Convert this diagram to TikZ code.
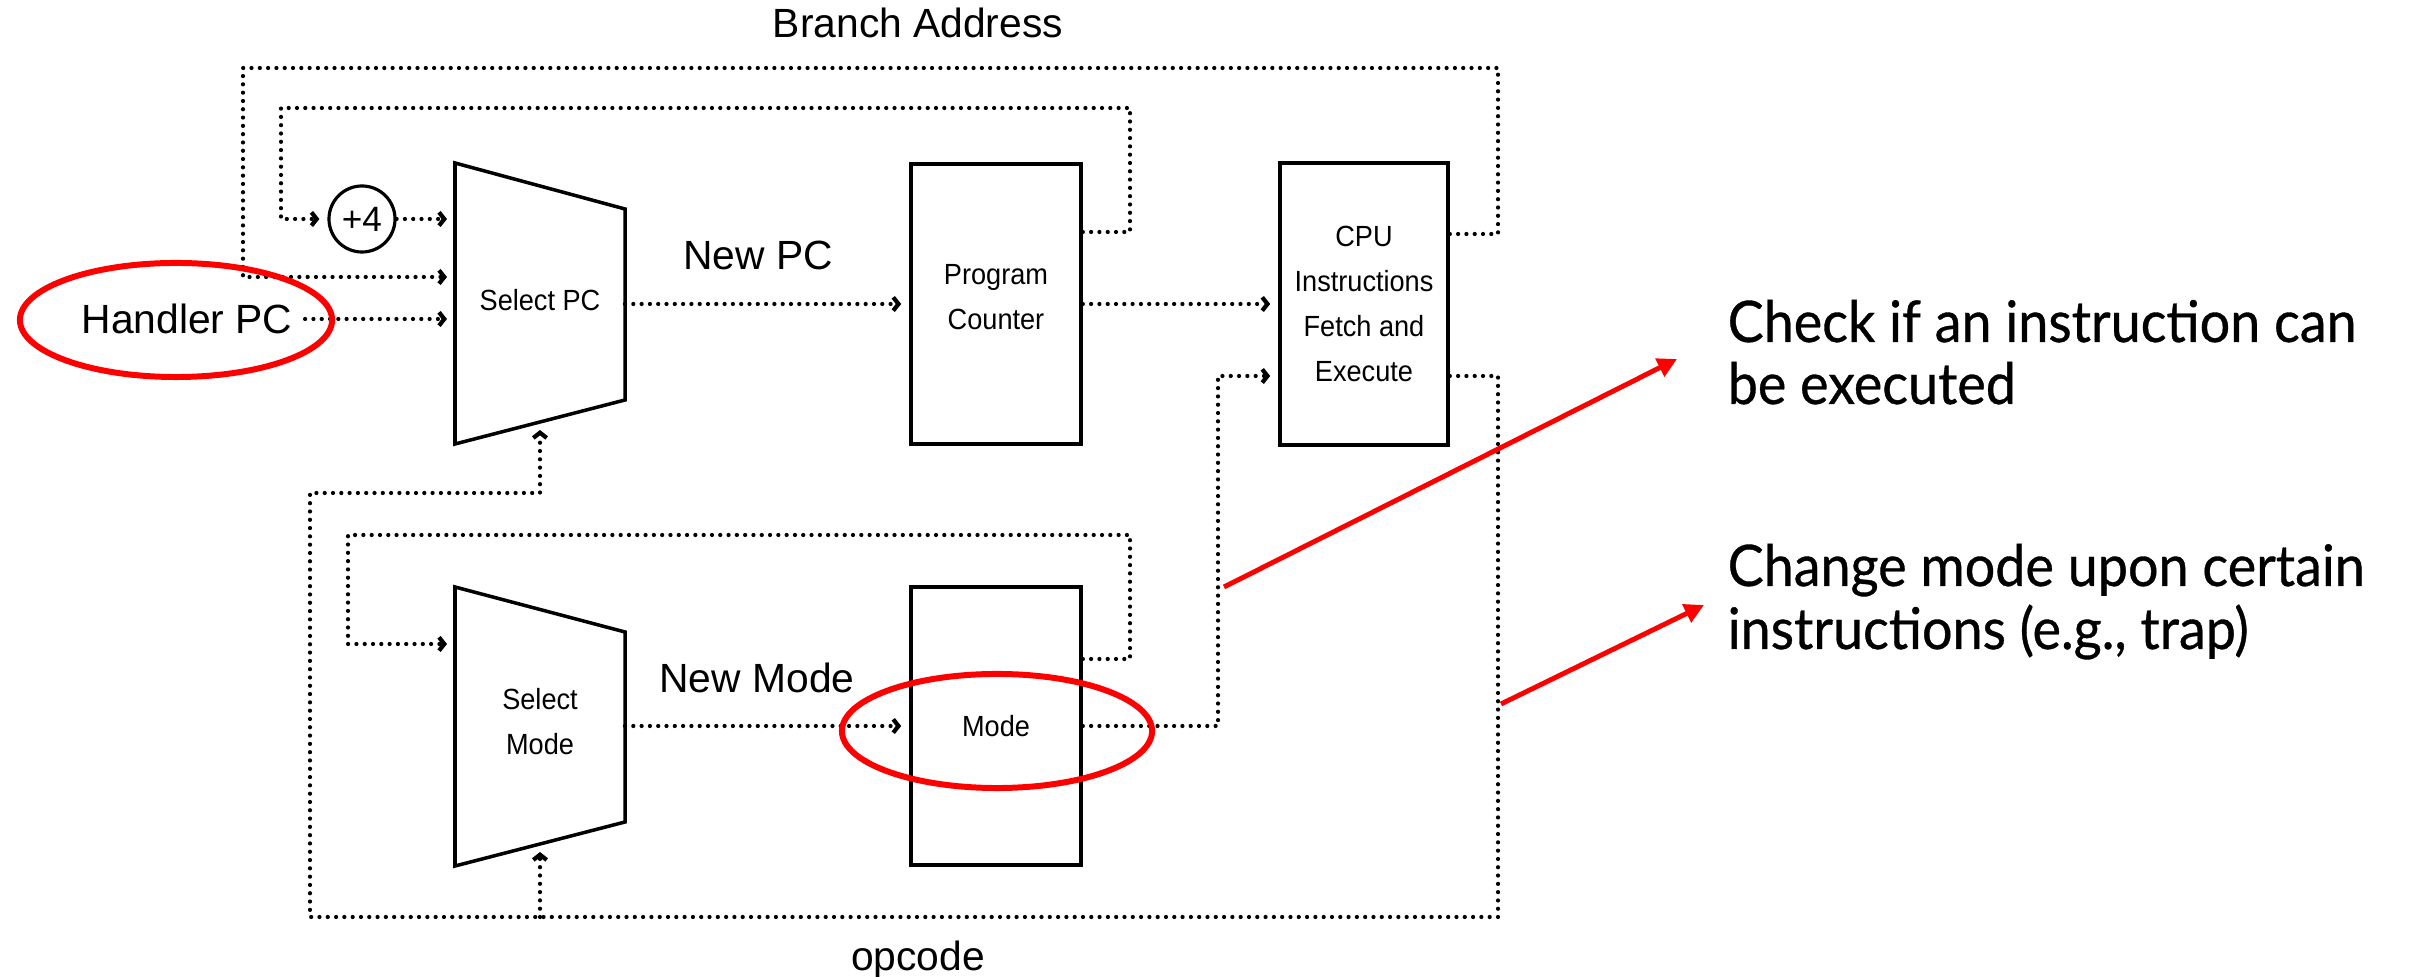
\documentclass[tikz,border=0pt]{standalone}
\usepackage{fontspec}
\setmainfont{Liberation Sans}
\newfontfamily\boxfont[FakeStretch=0.93]{Liberation Sans}
\newfontfamily\notefont[FakeStretch=0.94,FakeBold=0.6]{Lato}
\usetikzlibrary{arrows.meta,shapes.geometric}
\definecolor{annot}{RGB}{255,0,0}
\begin{document}
\begin{tikzpicture}[x=0.01cm,y=-0.01cm,
  dotline/.style={line width=1.2pt, line cap=round, dash pattern=on 0pt off 2.36pt},
  conn/.style={dotline, shorten >=0.08cm, -{Straight Barb[length=1.5pt,width=3.8pt,line width=1.2pt]}},
  regbox/.style={draw, line width=1pt, minimum width=1.7cm, inner sep=0pt, font=\boxfont\fontsize{8.3}{12.8}\selectfont, align=center},
  trap/.style={draw, line width=1pt, line join=miter},
  boxtext/.style={inner sep=0pt, font=\boxfont\fontsize{8.3}{12.8}\selectfont, align=center},
  lbl/.style={inner sep=0pt, anchor=base, font=\fontsize{11.6}{14}\selectfont},
  note/.style={inner sep=0pt, anchor=base west, font=\notefont\fontsize{16.3}{17.6}\selectfont},
  hl/.style={ellipse, draw=annot, line width=1.7pt, inner sep=0pt},
  redarrow/.style={draw=annot, line width=1.4pt, -{Triangle[length=5.5pt,width=5.5pt]}}
]
\useasboundingbox (0,0) rectangle (2415,977);

% Select PC multiplexer
\coordinate (spTL) at (455,163);
\coordinate (spTR) at (625,209);
\coordinate (spBR) at (625,400);
\coordinate (spBL) at (455,444);
\draw[trap] (spTL) -- (spTR) -- (spBR) -- (spBL) -- cycle;
\node[boxtext] (selpc) at (540,300) {Select PC};
\coordinate (spin1) at (455,219);
\coordinate (spin2) at (455,277);
\coordinate (spin3) at (455,319);
\coordinate (spsel) at (540,422);
\coordinate (spout) at (625,304);

% Select Mode multiplexer
\coordinate (smTL) at (455,587);
\coordinate (smTR) at (625,632);
\coordinate (smBR) at (625,822);
\coordinate (smBL) at (455,866);
\draw[trap] (smTL) -- (smTR) -- (smBR) -- (smBL) -- cycle;
\node[boxtext] (selmode) at (540,722) {Select\\Mode};
\coordinate (smin) at (455,644);
\coordinate (smsel) at (540,844);
\coordinate (smout) at (625,726);

% registers
\node[regbox, minimum height=2.8cm] (pc) at (996,304) {};
\node[boxtext] (pctext) at (996,297) {Program\\Counter};
\node[regbox, minimum width=1.68cm, minimum height=2.82cm] (cpu) at (1364,304) {CPU\\Instructions\\Fetch and\\Execute};
\node[regbox, minimum height=2.78cm] (mode) at (996,726) {Mode};

% +4 adder
\node[draw, circle, line width=0.9pt, minimum size=0.66cm, inner sep=0pt, font=\fontsize{10}{12}\selectfont] (plus4) at (362,219) {+4};

% labels
\node[lbl] (branch) at (918,38) {Branch Address};
\node[lbl] (newpc) at (758,270) {New PC};
\node[lbl] (newmode) at (757,693) {New Mode};
\node[lbl] (opcode) at (918,971) {opcode};
\node[inner sep=0.12cm, font=\fontsize{11.6}{14}\selectfont] (handler) at (187,319) {Handler PC};

% connectors
\draw[conn] (cpu.east |- 0,234) -| (1498,68) -| (243,277) -- (spin2);
\draw[conn] (pc.east |- 0,232) -| (1130,108) -| (281,219) -- (plus4);
\draw[conn] (plus4) -- (spin1);
\draw[conn] (handler.east) -- (spin3);
\draw[conn] (spout) -- (pc);
\draw[conn] (pc) -- (cpu);
\draw[conn] (mode.east) -| (1218,376) -- (cpu.west |- 0,376);
\draw[conn] (cpu.east |- 0,376) -| (1498,917) -- (310,917) -- (310,493) -| (spsel);
\coordinate (opj) at (540,917);
\draw[conn] (opj) -- (smsel);
\draw[conn] (mode.east |- 0,659) -| (1130,535) -| (348,644) -- (smin);
\draw[conn] (smout) -- (mode);

% highlights
\node[hl, minimum width=3.12cm, minimum height=1.14cm] (hlhandler) at (176,320) {};
\node[hl, minimum width=3.1cm, minimum height=1.14cm] (hlmode) at (997,731) {};

% notes
\node[note] (n1a) at (1727,342) {Check if an instruction can};
\node[note] (n1b) at (1727,404) {be executed};
\node[note] (n2a) at (1727,586) {Change mode upon certain};
\node[note] (n2b) at (1727,649) {instructions (e.g., trap)};

\coordinate (r1s) at (1224,587);
\coordinate (r1e) at (1677,359);
\coordinate (r2s) at (1501,704);
\coordinate (r2e) at (1704,605);
\draw[redarrow] (r1s) -- (r1e);
\draw[redarrow] (r2s) -- (r2e);
\end{tikzpicture}
\end{document}
